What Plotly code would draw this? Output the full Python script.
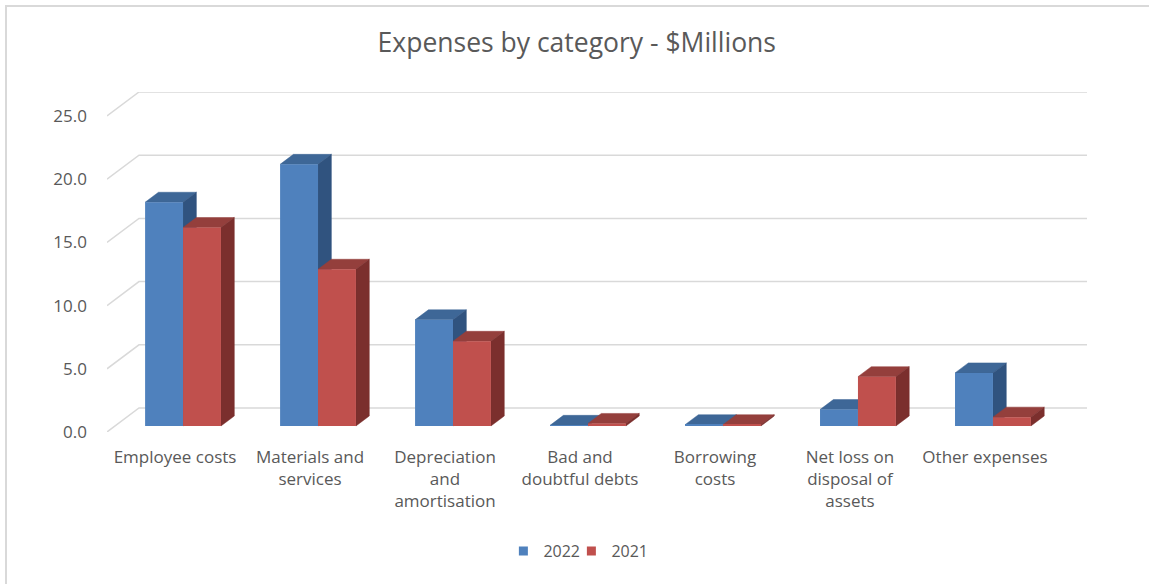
import plotly.graph_objects as go

# ---------------- data ----------------
categories = [
    "Employee costs",
    "Materials and<br>services",
    "Depreciation<br>and<br>amortisation",
    "Bad and<br>doubtful debts",
    "Borrowing<br>costs",
    "Net loss on<br>disposal of<br>assets",
    "Other expenses",
]
series_names = ["2022", "2021"]
values_2022 = [17.7, 20.7, 8.4, 0.05, 0.1, 1.3, 4.2]
values_2021 = [15.7, 12.4, 6.7, 0.2, 0.1, 3.9, 0.7]
y_ticks = [0, 5, 10, 15, 20, 25]
y_tick_text = ["0.0", "5.0", "10.0", "15.0", "20.0", "25.0"]

# ---------------- style / geometry ----------------
DX, DY = 0.237, 1.9          # full depth of the pseudo-3D floor in axis units
BAR_W = 0.281                # bar width in category units
D_FRONT, D_BACK = 0.25, 0.667
X_MIN, X_MAX = -0.504, 6.756
Y_MAX = 25 + DY

front_colors = ["#4F81BD", "#C0504D"]
top_colors = ["#3E6797", "#943F3C"]
side_colors = ["#30537F", "#7B2F2D"]
grid_color = "#D9D9D9"
text_color = "#595959"
FONT = "Open Sans"

series_values = [values_2022, values_2021]

fig = go.Figure()

# back-wall gridlines + left-wall slants
gx, gy = [], []
for v in y_ticks:
    gx += [X_MIN, X_MIN + DX, X_MAX, None]
    gy += [v, v + DY, v + DY, None]
fig.add_trace(go.Scatter(x=gx, y=gy, mode="lines", line=dict(color=grid_color, width=1.5),
                         hoverinfo="skip", showlegend=False))

ox = D_FRONT * DX
yb = D_FRONT * DY
bdx = (D_BACK - D_FRONT) * DX
bdy = (D_BACK - D_FRONT) * DY

# top and side faces (drawn under the front faces)
for s, vals in enumerate(series_values):
    tx, ty, sx, sy = [], [], [], []
    for i, v in enumerate(vals):
        xl = i + ox + (s - 1) * BAR_W
        xr = xl + BAR_W
        tx += [xl, xr, xr + bdx, xl + bdx, xl, None]
        ty += [yb + v, yb + v, yb + v + bdy, yb + v + bdy, yb + v, None]
        sx += [xr, xr + bdx, xr + bdx, xr, xr, None]
        sy += [yb, yb + bdy, yb + v + bdy, yb + v, yb, None]
    fig.add_trace(go.Scatter(x=tx, y=ty, mode="lines", fill="toself", fillcolor=top_colors[s],
                             line=dict(color=top_colors[s], width=0.5), hoverinfo="skip",
                             showlegend=False))
    fig.add_trace(go.Scatter(x=sx, y=sy, mode="lines", fill="toself", fillcolor=side_colors[s],
                             line=dict(color=side_colors[s], width=0.5), hoverinfo="skip",
                             showlegend=False))

# front faces as bars on an overlaying axis pair (drawn above the faces)
for s, vals in enumerate(series_values):
    xs = [i + ox + (s - 0.5) * BAR_W for i in range(len(vals))]
    fig.add_trace(go.Bar(x=xs, y=vals, base=[yb] * len(vals), width=BAR_W,
                         marker=dict(color=front_colors[s], line=dict(width=0)),
                         name=series_names[s], showlegend=False,
                         xaxis="x2", yaxis="y2"))

# legend entries
for s in range(2):
    fig.add_trace(go.Scatter(x=[None], y=[None], mode="markers", name=series_names[s],
                             legendwidth=23 if s == 0 else None,
                             marker=dict(symbol="square", size=9, color=front_colors[s])))

fig.update_layout(
    width=1149, height=584,
    margin=dict(l=107, r=62, t=92, b=152),
    paper_bgcolor="white", plot_bgcolor="white",
    barmode="overlay",
    font=dict(family=FONT, color=text_color, size=16),
    title=dict(text="Expenses by category - $Millions", x=0.502, xref="container",
               y=1 - 43 / 584, yanchor="middle", xanchor="center",
               font=dict(family=FONT, size=26.5, color=text_color)),
    xaxis=dict(range=[X_MIN, X_MAX], tickvals=list(range(len(categories))), ticktext=categories,
               showgrid=False, zeroline=False, showline=False, ticks="",
               ticklabelstandoff=13, tickfont=dict(size=17, color=text_color)),
    yaxis=dict(range=[0, Y_MAX], tickvals=y_ticks, ticktext=y_tick_text,
               showgrid=False, zeroline=False, showline=False, ticks="",
               ticklabelstandoff=19, tickfont=dict(size=17, color=text_color)),
    xaxis2=dict(range=[X_MIN, X_MAX], overlaying="x", visible=False),
    yaxis2=dict(range=[0, Y_MAX], overlaying="y", visible=False),
    legend=dict(orientation="h", x=0.481, xanchor="center", y=-0.35, yanchor="middle",
                font=dict(size=16, color=text_color), itemwidth=30),
    shapes=[dict(type="path", xref="paper", yref="paper",
                 path="M {x0},{y1} L {x0},{y0} L {x1},{y0}".format(
                     x0=(6 - 107) / 980, y0=(432 - 6) / 340,
                     x1=(1160 - 107) / 980, y1=(432 - 600) / 340),
                 line=dict(color=grid_color, width=2))],
)

fig.write_html("out.html", config={"displayModeBar": False},
               post_script="document.body.style.margin='0';")
